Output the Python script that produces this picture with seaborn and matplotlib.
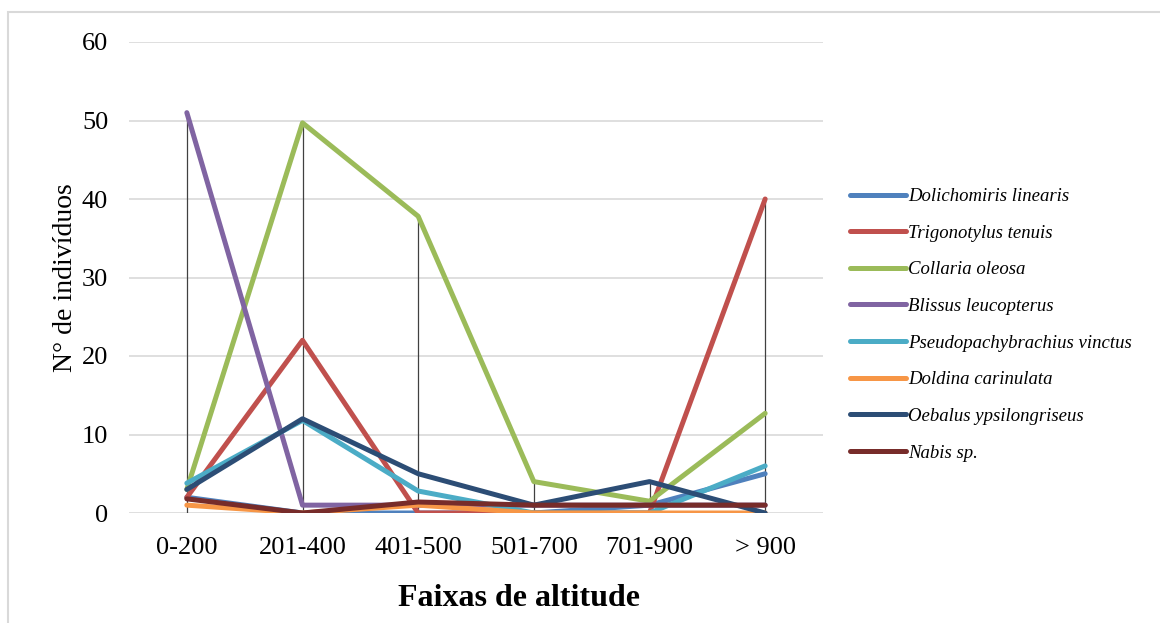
import matplotlib
matplotlib.use("Agg")
import matplotlib.pyplot as plt
import seaborn as sns
import pandas as pd
import numpy as np
from matplotlib.patches import Rectangle
from matplotlib.lines import Line2D

categories = ["0-200", "201-400", "401-500", "501-700", "701-900", "> 900"]
species = ["Dolichomiris linearis", "Trigonotylus tenuis", "Collaria oleosa",
           "Blissus leucopterus", "Pseudopachybrachius vinctus", "Doldina carinulata",
           "Oebalus ypsilongriseus", "Nabis sp."]
dolichomiris = [2, 0, 0, 0, 1, 5]
trigonotylus = [2, 22, 0, 0, 0, 40]
collaria = [3, 49.7, 37.8, 4, 1.5, 12.7]
blissus = [51, 1, 1, 1, 1, 1]
pseudopachy = [3.8, 11.8, 2.8, 0, 0, 6]
doldina = [1, 0, 1, 0, 0, 0]
oebalus = [3, 12, 5, 1, 4, 0]
nabis = [1.8, 0, 1.4, 1, 1, 1]
yticks = [0, 10, 20, 30, 40, 50, 60]

colors = ["#4F81BD", "#C0504D", "#9BBB59", "#8064A2", "#4BACC6", "#F79646",
          "#2C4D75", "#772C2A"]

series = [dolichomiris, trigonotylus, collaria, blissus, pseudopachy, doldina, oebalus, nabis]
rows = []
for sp, vals in zip(species, series):
    for c, v in zip(categories, vals):
        rows.append({"cat": c, "species": sp, "value": v})
df = pd.DataFrame(rows)
df["x"] = df["cat"].map({c: i for i, c in enumerate(categories)})

sns.set_style("white")
plt.rcParams["font.family"] = ["Liberation Serif", "DejaVu Serif"]
plt.rcParams["text.color"] = "black"
plt.rcParams["axes.labelcolor"] = "black"
plt.rcParams["xtick.color"] = "black"
plt.rcParams["ytick.color"] = "black"

fig = plt.figure(figsize=(11.6, 6.23), dpi=100)
fig.patches.append(Rectangle((8 / 1160, -0.1), 1.2, (623 - 12) / 623 + 0.1,
                             transform=fig.transFigure, fill=False,
                             edgecolor="#d9d9d9", linewidth=1.5))
ax = fig.add_axes([129 / 1160, 110 / 623, 694 / 1160, 471 / 623])

for y in yticks:
    ax.axhline(y, color="#d9d9d9", linewidth=1.2, zorder=0)

# drop lines
maxvals = df.groupby("x")["value"].max()
ax.vlines(maxvals.index, 0, maxvals.values, color="#404040", linewidth=0.9, zorder=1)

sns.lineplot(data=df, x="x", y="value", hue="species", hue_order=species,
             palette=colors, linewidth=3.6, ax=ax, legend=False, zorder=2,
             solid_capstyle="round")

ax.set_xlim(-0.5, 5.5)
ax.set_ylim(0, 60)
ax.set_xticks(range(len(categories)))
ax.set_xticklabels(categories)
ax.set_yticks(yticks)
ax.tick_params(axis="x", labelsize=19, pad=17, length=0)
ax.tick_params(axis="y", labelsize=19, pad=15, length=0)
for s in ax.spines.values():
    s.set_visible(False)
ax.set_xlabel("")
ax.set_ylabel("N° de indivíduos", fontsize=20, labelpad=3)
fig.text(519 / 1160, 1 - 599 / 623, "Faixas de altitude", fontsize=23,
         fontweight="bold", ha="center", va="center")

handles = [Line2D([0], [0], color=c, linewidth=3.6, solid_capstyle="round") for c in colors]
leg = fig.legend(handles, species, loc="upper left",
                 bbox_to_anchor=(850 / 1160, 1 - 188 / 623),
                 frameon=False, handlelength=3.0, handletextpad=0.1,
                 labelspacing=1.04, borderpad=0, borderaxespad=0,
                 prop={"family": "Liberation Serif", "style": "italic", "size": 13.5})

fig.savefig("out.png", dpi=100)
